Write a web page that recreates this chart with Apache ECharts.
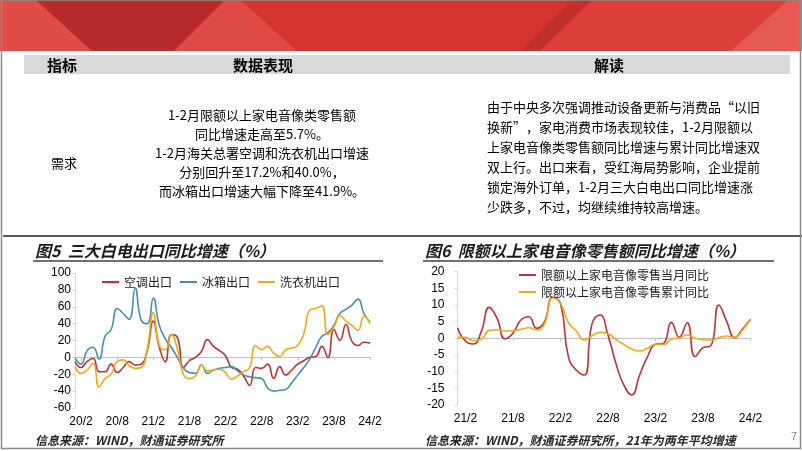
<!DOCTYPE html>
<html>
<head>
<meta charset="utf-8">
<script src="https://cdn.jsdelivr.net/npm/echarts@6/dist/echarts.min.js"></script>
<style>
html, body { margin: 0; padding: 0; background: #fff; }
#main { width: 802px; height: 451px; }
</style>
</head>
<body>
<div id="main"></div>
<script>
// 图5 月份 20/1 - 24/2
const months1 = [
  '20/1','20/2','20/3','20/4','20/5','20/6','20/7','20/8','20/9','20/10','20/11','20/12',
  '21/1','21/2','21/3','21/4','21/5','21/6','21/7','21/8','21/9','21/10','21/11','21/12',
  '22/1','22/2','22/3','22/4','22/5','22/6','22/7','22/8','22/9','22/10','22/11','22/12',
  '23/1','23/2','23/3','23/4','23/5','23/6','23/7','23/8','23/9','23/10','23/11','23/12',
  '24/1','24/2'
];
const acExport = [-5,-12,-5,-1,-17,-17,-8,-18,-12,-5,-9,-8,8,43,12,-5,27,24,-12,-4,0,7,21,13,8,2,-12,-14,-22,-33,-12,-13,-8,-25,-11,-21,-15,-8,-4,0,1,13,0,33,20,39,19,14,18,17.2];
const fridgeExport = [-1,-8,8,12,-2,25,33,58,52,45,82,44,40,70,38,22,12,0,-13,-18,-19,-9,-19,-15,-13,-12,-11,-16,-21,-23,-24,-25,-36,-40,-39,-38,-30,-21,-12,-2,12,25,29,38,52,57,62,69,52,41.9];
const washerExport = [-11,-19,-15,-7,-35,-25,-20,-5,-3,-10,-13,-12,10,53,14,9,27,10,-20,-25,-22,-9,-16,-15,-14,-18,-26,-22,-17,-12,14,9,13,5,1,9,11,14,28,56,58,61,27,36,50,43,38,32,49,40];
const yAxis1 = { min: -60, max: 100, step: 20 };

// 图6 月份 21/1 - 24/2
const months2 = [
  '21/1','21/2','21/3','21/4','21/5','21/6','21/7','21/8','21/9','21/10','21/11','21/12',
  '22/1','22/2','22/3','22/4','22/5','22/6','22/7','22/8','22/9','22/10','22/11','22/12',
  '23/1','23/2','23/3','23/4','23/5','23/6','23/7','23/8','23/9','23/10','23/11','23/12',
  '24/1','24/2'
];
const retailMonth = [3.2,-0.8,-1.7,2,9.3,6,-0.2,1.5,5.5,6.5,3,5,12.3,10.5,-5.5,-9.5,-11,4.5,7,1,-7.5,-14,-17,-11,-5.5,-1.8,-1.5,4.8,0.3,4.7,-5.5,-2.8,-2.2,10,5,0.2,2.8,5.7];
const retailCum = [0.3,0.3,-0.7,-0.3,2.4,2.6,2.2,2.3,2.7,3.2,2.5,4.5,12.3,10.5,4.8,2.2,-0.5,0.8,1.8,1.4,-0.3,-1.8,-3.2,-3.8,-3,-1.8,-1.8,-0.3,0.1,1,0,-0.3,-0.5,0.2,0.7,0.3,2.5,5.7];
const yAxis2 = { min: -20, max: 20, step: 5 };

const FONT_NUM = "'Liberation Sans', Arial, sans-serif";
const FONT_CJK = "'Noto Sans CJK SC', 'Liberation Sans', sans-serif";
const RED = '#b8343a', BLUE = '#4a8cb0', YELLOW = '#eda91c';

function text(x, y, str, size, extra) {
  return {
    type: 'text', x: x, y: y, silent: true,
    style: Object.assign({
      text: str, fontSize: size, fontFamily: FONT_CJK, fill: '#000',
      textAlign: 'left', verticalAlign: 'middle'
    }, extra || {})
  };
}
function line(x1, y1, x2, y2, color, w) {
  return { type: 'line', silent: true, shape: { x1: x1, y1: y1, x2: x2, y2: y2 }, style: { stroke: color, lineWidth: w } };
}
function poly(points, color) {
  return { type: 'polygon', silent: true, shape: { points: points }, style: { fill: color } };
}

const graphics = [
  // 顶部红色横幅
  { type: 'rect', silent: true, shape: { x: 0, y: 0, width: 802, height: 51 }, style: { fill: '#d4352f' } },
  poly([[0, 0], [36, 0], [92, 51], [0, 51]], '#e04c46'),
  poly([[36, 0], [225, 0], [174, 51], [92, 51]], '#b82b2b'),
  poly([[174, 51], [225, 0], [240, 0], [297, 51]], '#e04a45'),
  poly([[520, 51], [572, 0], [592, 0], [540, 51]], '#c22f2d'),
  poly([[592, 0], [788, 0], [731, 51], [540, 51]], '#dc3f3a'),
  poly([[788, 0], [802, 0], [802, 51], [731, 51]], '#e65a53'),
  // 表格
  { type: 'rect', silent: true, shape: { x: 24, y: 55, width: 766, height: 19 }, style: { fill: '#d9d9d9' } },
  text(62, 65, '指标', 15, { fontWeight: 'bold', textAlign: 'center' }),
  text(263, 65, '数据表现', 15, { fontWeight: 'bold', textAlign: 'center' }),
  text(609, 65, '解读', 15, { fontWeight: 'bold', textAlign: 'center' }),
  text(64, 163, '需求', 13, { textAlign: 'center' }),
  text(262, 153,
    '1-2月限额以上家电音像类零售额\n同比增速走高至5.7%。\n1-2月海关总署空调和洗衣机出口增速\n分别回升至17.2%和40.0%，\n而冰箱出口增速大幅下降至41.9%。',
    13, { textAlign: 'center', lineHeight: 19 }),
  text(487, 157,
    '由于中央多次强调推动设备更新与消费品“以旧\n换新”，家电消费市场表现较佳，1-2月限额以\n上家电音像类零售额同比增速与累计同比增速双\n双上行。出口来看，受红海局势影响，企业提前\n锁定海外订单，1-2月三大白电出口同比增速涨\n少跌多，不过，均继续维持较高增速。',
    13, { lineHeight: 20 }),
  line(3, 236, 802, 236, '#595959', 2),
  // 图表标题与来源
  text(35, 251, '图5  三大白电出口同比增速（%）', 16, { fontWeight: 'bold', fontStyle: 'italic', fill: '#1a1a1a' }),
  text(425, 251, '图6  限额以上家电音像零售额同比增速（%）', 16, { fontWeight: 'bold', fontStyle: 'italic', fill: '#1a1a1a' }),
  line(33, 261, 383, 261, '#404040', 1.5),
  line(423, 261, 774, 261, '#404040', 1.5),
  text(35, 440, '信息来源：WIND，财通证券研究所', 12, { fontWeight: 'bold', fontStyle: 'italic', fill: '#262626' }),
  text(425, 440, '信息来源：WIND，财通证券研究所，21年为两年平均增速', 12, { fontWeight: 'bold', fontStyle: 'italic', fill: '#262626' }),
  text(791, 437, '7', 11, { fontFamily: FONT_NUM, fill: '#7f7f7f' }),
  // 页面边框
  { type: 'rect', silent: true, shape: { x: 1.5, y: 0, width: 799, height: 448.5 }, style: { fill: 'none', stroke: '#8c8c8c', lineWidth: 1.5 } }
];

const showEvery6 = function (idx) { return idx % 6 === 1; };

function labelAxis(grid, data) {
  return {
    type: 'category', gridIndex: grid, data: data, boundaryGap: false,
    axisLine: { show: false, onZero: false },
    axisTick: { show: false },
    axisLabel: { interval: showEvery6, margin: 8, color: '#000', fontSize: 12, fontFamily: FONT_NUM }
  };
}
function zeroAxis(grid, data) {
  return {
    type: 'category', gridIndex: grid, data: data, boundaryGap: false, position: 'bottom',
    axisLine: { show: true, onZero: true, lineStyle: { color: '#bfbfbf', width: 1 } },
    axisTick: { show: true, interval: showEvery6, length: 3, lineStyle: { color: '#bfbfbf' } },
    axisLabel: { show: false }
  };
}
function valueAxis(grid, r, margin) {
  return {
    type: 'value', gridIndex: grid, min: r.min, max: r.max, interval: r.step,
    axisLine: { show: true, lineStyle: { color: '#d9d9d9' } },
    axisTick: { show: true, length: 3, lineStyle: { color: '#d9d9d9' } },
    splitLine: { show: false },
    axisLabel: { margin: margin, color: '#000', fontSize: 12, fontFamily: FONT_NUM }
  };
}
function lineSeries(name, data, color, xi, yi) {
  return {
    name: name, type: 'line', data: data, xAxisIndex: xi, yAxisIndex: yi,
    smooth: 0.5, symbol: 'none', silent: true,
    lineStyle: { color: color, width: 1.6 }, itemStyle: { color: color }
  };
}

const option = {
  animation: false,
  textStyle: { fontFamily: FONT_CJK },
  graphic: { elements: graphics },
  legend: [
    {
      data: ['空调出口', '冰箱出口', '洗衣机出口'],
      left: 97, top: 271, itemWidth: 17, itemHeight: 2, itemGap: 8, icon: 'rect',
      textStyle: { fontSize: 12, color: '#222', fontFamily: FONT_CJK }
    },
    {
      data: ['限额以上家电音像零售当月同比', '限额以上家电音像零售累计同比'],
      orient: 'vertical', left: 514, top: 264, itemWidth: 17, itemHeight: 2, itemGap: 5, icon: 'rect',
      textStyle: { fontSize: 12, color: '#222', fontFamily: FONT_CJK }
    }
  ],
  grid: [
    { left: 75, top: 273, width: 295, height: 135 },
    { left: 457.5, top: 271.7, width: 293, height: 133.3 }
  ],
  xAxis: [
    labelAxis(0, months1), zeroAxis(0, months1),
    labelAxis(1, months2), zeroAxis(1, months2)
  ],
  yAxis: [valueAxis(0, yAxis1, 4), valueAxis(1, yAxis2, 13)],
  series: [
    lineSeries('空调出口', acExport, RED, 0, 0),
    lineSeries('冰箱出口', fridgeExport, BLUE, 0, 0),
    lineSeries('洗衣机出口', washerExport, YELLOW, 0, 0),
    lineSeries('限额以上家电音像零售当月同比', retailMonth, RED, 2, 1),
    lineSeries('限额以上家电音像零售累计同比', retailCum, YELLOW, 2, 1)
  ]
};

const chart = echarts.init(document.getElementById('main'));
chart.setOption(option);
</script>
</body>
</html>
